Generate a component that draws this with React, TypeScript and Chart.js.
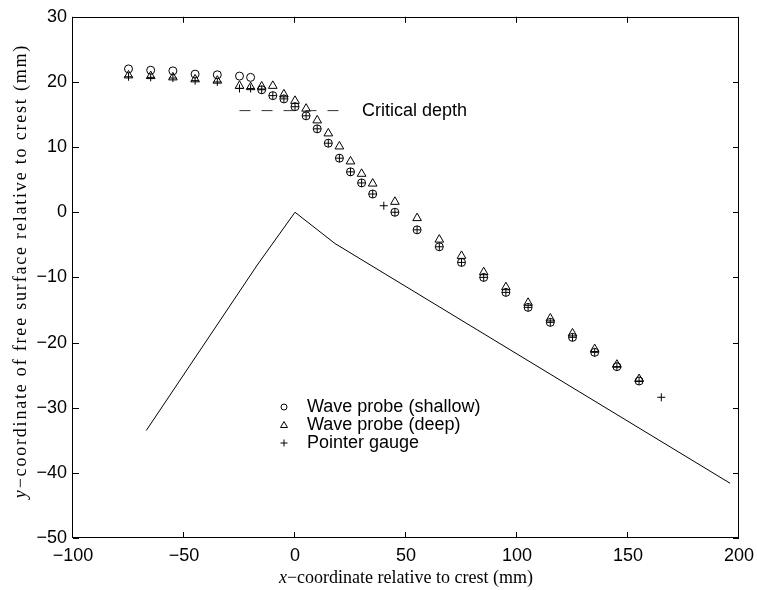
import React, { useEffect, useRef } from 'react';
import { Chart, registerables } from 'chart.js';

Chart.register(...registerables);

// ---- data ----
const bedX = [-67, -17, 0, 18, 196];
const bedY = [-33.5, -8.1, 0, -4.8, -41.6];

const critX = [-25, 20];
const critY = [15.6, 15.6];
const critLabel = 'Critical depth';

const shallowX = [-75, -65, -55, -45, -35, -25, -20, -15, -10, -5, 0, 5, 10, 15, 20, 25, 30, 35, 45, 55, 65, 75, 85, 95, 105, 115, 125, 135, 145, 155];
const shallowY = [22.0, 21.8, 21.7, 21.2, 21.1, 20.9, 20.7, 18.8, 17.9, 17.4, 16.2, 14.8, 12.8, 10.6, 8.3, 6.2, 4.5, 2.8, 0.0, -2.7, -5.3, -7.7, -10.0, -12.3, -14.6, -16.9, -19.2, -21.5, -23.7, -25.9];

const deepX = [-75, -65, -55, -45, -35, -25, -20, -15, -10, -5, 0, 5, 10, 15, 20, 25, 30, 35, 45, 55, 65, 75, 85, 95, 105, 115, 125, 135, 145, 155];
const deepY = [21.0, 20.9, 20.7, 20.4, 20.2, 19.4, 19.2, 19.3, 19.4, 18.1, 17.1, 15.9, 14.1, 12.1, 10.1, 7.8, 5.9, 4.4, 1.6, -0.9, -4.2, -6.7, -9.2, -11.5, -13.9, -16.3, -18.6, -21.0, -23.4, -25.6];

const gaugeX = [-75, -65, -55, -45, -35, -25, -20, -15, -10, -5, 0, 5, 10, 15, 20, 25, 30, 35, 40, 45, 55, 65, 75, 85, 95, 105, 115, 125, 135, 145, 155, 165];
const gaugeY = [20.8, 20.7, 20.6, 20.2, 20.0, 19.0, 19.0, 18.8, 17.9, 17.4, 16.2, 14.8, 12.8, 10.6, 8.3, 6.2, 4.5, 2.8, 1.0, 0.0, -2.7, -5.3, -7.7, -10.0, -12.3, -14.6, -16.9, -19.2, -21.5, -23.7, -25.9, -28.4];

const legendLabels = ['Wave probe (shallow)', 'Wave probe (deep)', 'Pointer gauge'];
const xTitleItalic = 'x';
const xTitleRest = '\u2212coordinate relative to crest (mm)';
const yTitleItalic = 'y';
const yTitleRest = '\u2212coordinate of free surface relative to crest (mm)';

const xMin = -100, xMax = 200, xStep = 50;
const yMin = -50, yMax = 30, yStep = 10;

const pts = (xs: number[], ys: number[]) => xs.map((x, i) => ({ x, y: ys[i] }));

const SANS = '"Liberation Sans", Arial, Helvetica, sans-serif';
const SERIF = '"Liberation Serif", "Times New Roman", serif';

const fmt = (v: any) => String(v).replace('-', '\u2212');

const drawPlugin = {
  id: 'matlabDecor',
  afterDraw(chart: any) {
    const ctx = chart.ctx as CanvasRenderingContext2D;
    const { left, right, top, bottom } = chart.chartArea;
    const xs = chart.scales.x;
    const ys = chart.scales.y;
    ctx.save();
    ctx.strokeStyle = '#000';
    ctx.lineWidth = 1;
    // box
    ctx.strokeRect(Math.round(left) - 0.5, Math.round(top) + 0.5, Math.round(right) - Math.round(left), Math.round(bottom) - Math.round(top) - 1);
    // ticks
    const tl = 6;
    ctx.beginPath();
    xs.ticks.forEach((t: any) => {
      const px = Math.round(xs.getPixelForValue(t.value)) - 0.5;
      ctx.moveTo(px, bottom);
      ctx.lineTo(px, bottom - tl);
      ctx.moveTo(px, top);
      ctx.lineTo(px, top + tl);
    });
    ys.ticks.forEach((t: any) => {
      const py = Math.round(ys.getPixelForValue(t.value)) + 0.5;
      ctx.moveTo(left, py);
      ctx.lineTo(left + tl, py);
      ctx.moveTo(right, py);
      ctx.lineTo(right - tl, py);
    });
    ctx.stroke();

    ctx.fillStyle = '#000';
    // x tick labels
    ctx.font = '18px ' + SANS;
    ctx.textAlign = 'center';
    ctx.textBaseline = 'middle';
    xs.ticks.forEach((t: any) => {
      ctx.fillText(fmt(t.value), xs.getPixelForValue(t.value), bottom + 18);
    });

    // critical depth label
    ctx.textAlign = 'left';
    ctx.fillText(critLabel, xs.getPixelForValue(30.2), ys.getPixelForValue(critY[0]));

    // legend
    const lx = 284;
    const ly0 = 407;
    const dy = 18;
    legendLabels.forEach((lab, i) => {
      const y = ly0 + i * dy;
      ctx.beginPath();
      if (i === 0) {
        ctx.arc(lx, y, 3, 0, Math.PI * 2);
      } else if (i === 1) {
        ctx.moveTo(lx, y - 3.5);
        ctx.lineTo(lx + 3.5, y + 2.5);
        ctx.lineTo(lx - 3.5, y + 2.5);
        ctx.closePath();
      } else {
        ctx.moveTo(lx - 3.5, y);
        ctx.lineTo(lx + 3.5, y);
        ctx.moveTo(lx, y - 3.5);
        ctx.lineTo(lx, y + 3.5);
      }
      ctx.stroke();
      ctx.fillText(lab, 307, y);
    });

    // x title
    ctx.font = 'italic 18px ' + SERIF;
    const wI = ctx.measureText(xTitleItalic).width;
    ctx.font = '18px ' + SERIF;
    const wR = ctx.measureText(xTitleRest).width;
    const cx = (left + right) / 2;
    const sx = cx - (wI + wR) / 2;
    const ty = 578;
    ctx.font = 'italic 18px ' + SERIF;
    ctx.fillText(xTitleItalic, sx, ty);
    ctx.font = '18px ' + SERIF;
    ctx.fillText(xTitleRest, sx + wI, ty);

    // y title (rotated, slightly wider letter spacing as in reference)
    ctx.save();
    ctx.translate(21, 271);
    ctx.rotate(-Math.PI / 2);
    (ctx as any).letterSpacing = '1.8px';
    ctx.font = 'italic 18px ' + SERIF;
    const wyI = ctx.measureText(yTitleItalic).width;
    ctx.font = '18px ' + SERIF;
    const wyR = ctx.measureText(yTitleRest).width;
    const sy = -(wyI + wyR) / 2;
    ctx.font = 'italic 18px ' + SERIF;
    ctx.fillText(yTitleItalic, sy, 0);
    ctx.font = '18px ' + SERIF;
    ctx.fillText(yTitleRest, sy + wyI, 0);
    (ctx as any).letterSpacing = '0px';
    ctx.restore();

    ctx.restore();
  },
};

export default function App() {
  const ref = useRef<HTMLCanvasElement | null>(null);
  useEffect(() => {
    if (!ref.current) return;
    const chart = new Chart(ref.current, {
      type: 'scatter',
      data: {
        datasets: [
          {
            label: 'bed',
            data: pts(bedX, bedY),
            showLine: true,
            borderColor: '#000',
            borderWidth: 1,
            pointRadius: 0,
            fill: false,
          },
          {
            label: 'critical',
            data: pts(critX, critY),
            showLine: true,
            borderColor: '#333',
            borderWidth: 1,
            borderDash: [11, 11],
            pointRadius: 0,
            fill: false,
          },
          {
            label: legendLabels[0],
            data: pts(shallowX, shallowY),
            pointStyle: 'circle',
            pointRadius: 4,
            borderColor: '#000',
            backgroundColor: 'rgba(0,0,0,0)',
            borderWidth: 1,
          },
          {
            label: legendLabels[1],
            data: pts(deepX, deepY),
            pointStyle: 'triangle',
            pointRadius: 5,
            borderColor: '#000',
            backgroundColor: 'rgba(0,0,0,0)',
            borderWidth: 1,
          },
          {
            label: legendLabels[2],
            data: pts(gaugeX, gaugeY),
            pointStyle: 'cross',
            pointRadius: 4,
            borderColor: '#000',
            backgroundColor: 'rgba(0,0,0,0)',
            borderWidth: 1,
          },
        ],
      },
      options: {
        animation: false,
        responsive: false,
        devicePixelRatio: 1,
        layout: { padding: { top: 13, right: 18, left: 0, bottom: 0 } },
        plugins: {
          legend: { display: false },
          tooltip: { enabled: false },
        },
        scales: {
          x: {
            type: 'linear',
            min: xMin,
            max: xMax,
            grid: { display: false, drawTicks: false },
            border: { display: false },
            ticks: {
              display: false,
              stepSize: xStep,
            },
            afterFit: (s: any) => {
              s.height = 52;
            },
          },
          y: {
            type: 'linear',
            min: yMin,
            max: yMax,
            grid: { display: false, drawTicks: false },
            border: { display: false },
            ticks: {
              stepSize: yStep,
              color: '#000',
              font: { family: SANS, size: 18 },
              padding: 6,
              callback: (v: any) => fmt(v),
            },
            afterFit: (s: any) => {
              s.width = 73;
            },
          },
        },
      } as any,
      plugins: [drawPlugin],
    });
    return () => chart.destroy();
  }, []);
  return (
    <div style={{ position: 'fixed', left: 0, top: 0, width: 757, height: 590, background: '#fff' }}>
      <canvas ref={ref} width={757} height={590} style={{ display: 'block' }} />
    </div>
  );
}
